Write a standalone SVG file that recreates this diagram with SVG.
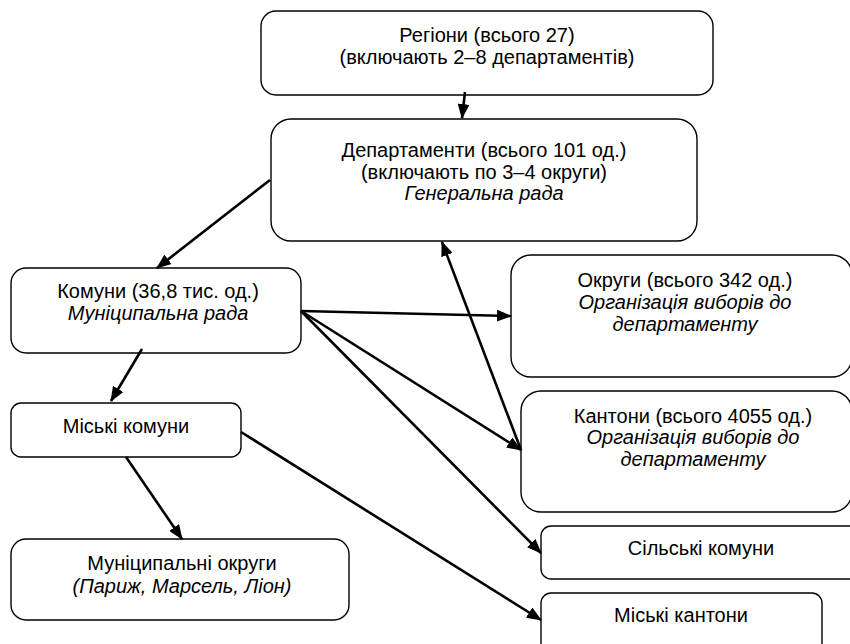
<svg xmlns="http://www.w3.org/2000/svg" width="850" height="644" viewBox="0 0 850 644">
<defs>
<style>
.box{fill:#fff;stroke:#000;stroke-width:1.4}
.t{font-family:"Liberation Sans",Arial,sans-serif;font-size:20px;fill:#000;text-anchor:middle}
.i{font-style:italic}
.c{stroke:#000;stroke-width:2.6;fill:none;marker-end:url(#ah)}
</style>
<marker id="ah" markerUnits="userSpaceOnUse" markerWidth="15" markerHeight="12" refX="14" refY="6" orient="auto" viewBox="0 0 15 12">
<path d="M0,0 L15,6 L0,12 z" fill="#000"/>
</marker>
</defs>
<rect width="850" height="644" fill="#fff"/>
<g id="regions">
<rect class="box" x="261" y="11" width="452" height="84" rx="15"/>
<text class="t" x="487" y="42">Регіони (всього 27)</text>
<text class="t" x="487" y="64">(включають 2–8 департаментів)</text>
</g>
<g id="departments">
<rect class="box" x="271" y="119" width="426" height="122" rx="20"/>
<text class="t" x="484" y="157">Департаменти (всього 101 од.)</text>
<text class="t" x="484" y="179">(включають по 3–4 округи)</text>
<text class="t i" x="484" y="200">Генеральна рада</text>
</g>
<g id="communes">
<rect class="box" x="11" y="268" width="290" height="85" rx="15"/>
<text class="t" x="158" y="298">Комуни (36,8 тис. од.)</text>
<text class="t i" x="158" y="320">Муніципальна рада</text>
</g>
<g id="districts">
<rect class="box" x="511" y="255" width="341" height="122" rx="20"/>
<text class="t" x="685" y="287">Округи (всього 342 од.)</text>
<text class="t i" x="685" y="309">Організація виборів до</text>
<text class="t i" x="685" y="331">департаменту</text>
</g>
<g id="cantons">
<rect class="box" x="521" y="391" width="331" height="121" rx="20"/>
<text class="t" x="693" y="423">Кантони (всього 4055 од.)</text>
<text class="t i" x="693" y="444">Організація виборів до</text>
<text class="t i" x="693" y="466">департаменту</text>
</g>
<g id="urban-communes">
<rect class="box" x="11" y="403" width="230" height="54" rx="10"/>
<text class="t" x="126" y="433">Міські комуни</text>
</g>
<g id="municipal-districts">
<rect class="box" x="11" y="539" width="338" height="81" rx="15"/>
<text class="t" x="182" y="570">Муніципальні округи</text>
<text class="t i" x="182" y="593">(Париж, Марсель, Ліон)</text>
</g>
<g id="rural-communes">
<rect class="box" x="541" y="526" width="330" height="53" rx="10"/>
<text class="t" x="701" y="555">Сільські комуни</text>
</g>
<g id="urban-cantons">
<rect class="box" x="541" y="593" width="281" height="62" rx="10"/>
<text class="t" x="681" y="622">Міські кантони</text>
</g>
<g id="connectors">
<line class="c" x1="465" y1="92" x2="462" y2="118"/>
<line class="c" x1="270" y1="180" x2="157" y2="268"/>
<line class="c" x1="301" y1="311" x2="511" y2="316"/>
<line class="c" x1="301" y1="311" x2="521" y2="450"/>
<line class="c" x1="521" y1="450" x2="442" y2="242"/>
<line class="c" x1="301" y1="311" x2="541" y2="553"/>
<line class="c" x1="142" y1="349" x2="111" y2="401"/>
<line class="c" x1="126" y1="457" x2="182" y2="539"/>
<line class="c" x1="241" y1="432" x2="541" y2="620"/>
</g>
</svg>
